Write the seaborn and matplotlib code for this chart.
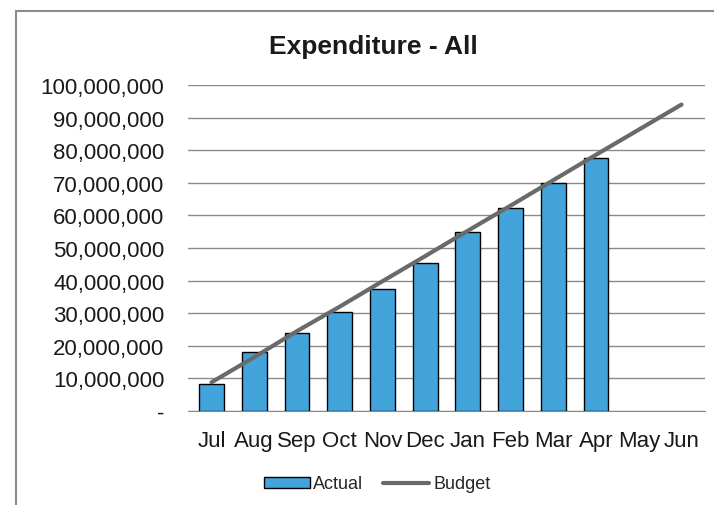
import numpy as np
import pandas as pd
import matplotlib
matplotlib.use('Agg')
import matplotlib.pyplot as plt
import seaborn as sns
from matplotlib.patches import Patch, Rectangle
from matplotlib.lines import Line2D
from matplotlib.ticker import FuncFormatter

# dados
meses = ['Jul', 'Aug', 'Sep', 'Oct', 'Nov', 'Dec', 'Jan', 'Feb', 'Mar', 'Apr', 'May', 'Jun']
actual = [8.3e6, 18.1e6, 23.9e6, 30.4e6, 37.4e6, 45.4e6, 54.9e6, 62.3e6, 69.9e6, 77.6e6, np.nan, np.nan]
budget = [8.8e6, 16.5e6, 24.5e6, 32.0e6, 39.8e6, 47.5e6, 55.3e6, 63.0e6, 70.8e6, 78.6e6, 86.3e6, 94.0e6]
y_ticks = [0, 10e6, 20e6, 30e6, 40e6, 50e6, 60e6, 70e6, 80e6, 90e6, 100e6]

df = pd.DataFrame({'Mes': meses, 'Actual': actual, 'Budget': budget})

sns.set_style('white')
plt.rcParams['font.family'] = ['Liberation Sans', 'DejaVu Sans']

fig = plt.figure(figsize=(7.14, 5.06), dpi=100)
fig.patches.append(Rectangle((16 / 714, -0.05), 1.0, 1 - 12 / 506 + 0.05, transform=fig.transFigure,
                             fill=False, edgecolor='#8c8c8c', linewidth=1.5))
ax = fig.add_axes([188 / 714, 1 - 412 / 506, (705 - 188) / 714, (412 - 86) / 506])

cor_barra = '#43a4dc'
sns.barplot(data=df, x='Mes', y='Actual', order=meses, color=cor_barra, width=0.58,
            edgecolor='black', linewidth=1.0, saturation=1, ax=ax, zorder=3)
sns.lineplot(x=np.arange(len(meses)), y=df['Budget'], color='#6a6a6a', linewidth=3, ax=ax, zorder=4)

ax.set_ylim(0, 100e6)
ax.set_xlim(-0.55, len(meses) - 0.45)
ax.set_yticks(y_ticks)
ax.yaxis.set_major_formatter(FuncFormatter(lambda v, p: '-' if v == 0 else f'{v:,.0f}'))
ax.grid(axis='y', color='#8a8a8a', linewidth=1.0, zorder=0)
ax.set_axisbelow(True)
for s in ['top', 'right', 'left']:
    ax.spines[s].set_visible(False)
ax.spines['bottom'].set_color('#8a8a8a')
ax.tick_params(axis='both', length=0, labelsize=16, colors='#1a1a1a')
ax.tick_params(axis='y', pad=17)
ax.tick_params(axis='x', pad=14)
ax.set_xlabel('')
ax.set_ylabel('')

fig.text(373 / 714, 1 - 47 / 506, 'Expenditure - All', ha='center', va='center',
         fontsize=19, fontweight='bold', color='#1a1a1a')

handles = [Patch(facecolor=cor_barra, edgecolor='black', linewidth=1.0),
           Line2D([0], [0], color='#6a6a6a', linewidth=3)]
fig.legend(handles, ['Actual', 'Budget'], loc='center', bbox_to_anchor=(377 / 714, 1 - 485 / 506),
           ncol=2, frameon=False, fontsize=13, handlelength=2.55, handleheight=0.55,
           handletextpad=0.2, columnspacing=1.1)

plt.savefig('out.png', dpi=100)
